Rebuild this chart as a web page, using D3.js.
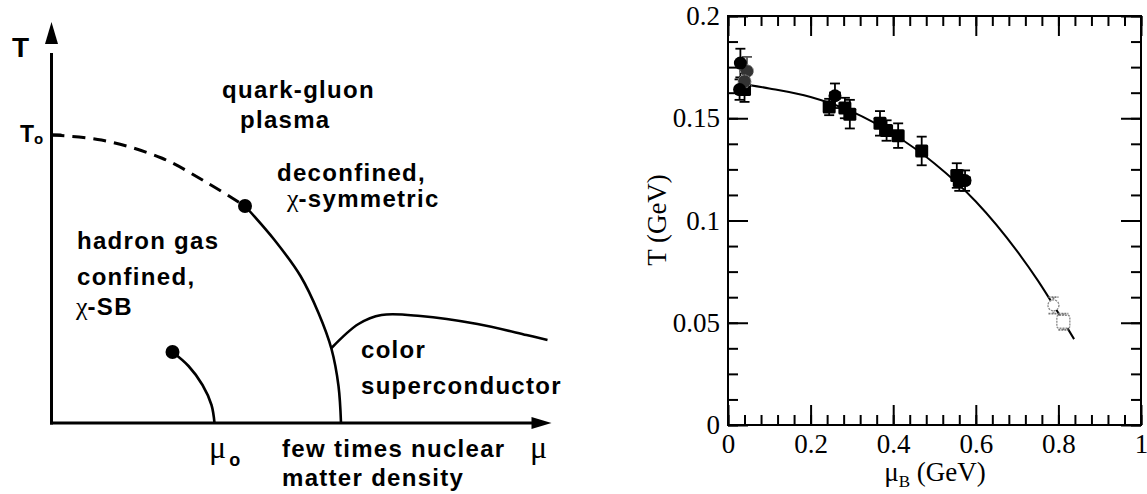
<!DOCTYPE html>
<html>
<head>
<meta charset="utf-8">
<script src="https://cdn.jsdelivr.net/npm/d3@7"></script>
<style>
  body { margin: 0; background: #fff; }
  svg { display: block; }
  .lbl { font-family: "Liberation Sans", Arial, sans-serif; font-weight: bold; fill: #000; }
  .ser { font-family: "Liberation Serif", "Times New Roman", serif; fill: #000; }
  .tick text { font-family: "Liberation Serif", "Times New Roman", serif; font-size: 27px; fill: #000; }
</style>
</head>
<body>
<svg width="1147" height="494"></svg>
<script>
// ---- left panel: schematic phase diagram (diagram units)
var crossoverDashed = [[0, 288], [50, 283], [110, 265], [156, 240], [193.5, 217]];
var firstOrderLine  = [[193.5, 217], [223, 183], [249, 147], [267, 110], [280, 74], [287, 37], [289.5, 0]];
var superLine       = [[280, 75], [307, 99], [330, 108], [369, 107], [426, 99], [475, 88], [496, 83]];
var nuclearLine     = [[121, 71], [137, 57], [151, 38], [160, 18], [163, 0]];
var criticalPoints  = [[193.5, 217], [121, 71]];

// ---- right panel: freeze-out points (muB GeV, T GeV, dT, dMu)
var blackCircles = [[0.030, 0.177, 0.007, 0], [0.028, 0.164, 0.005, 0], [0.259, 0.161, 0.006, 0.012], [0.574, 0.1195, 0.005, 0.012]];
var greyCircles  = [[0.046, 0.173, 0.007, 0], [0.040, 0.168, 0.005, 0]];
var blackSquares = [[0.040, 0.164, 0.006, 0], [0.245, 0.1555, 0.004, 0.010], [0.283, 0.155, 0.005, 0],
                    [0.295, 0.152, 0.007, 0], [0.368, 0.1475, 0.006, 0], [0.384, 0.144, 0.005, 0],
                    [0.412, 0.1415, 0.006, 0], [0.469, 0.134, 0.007, 0], [0.554, 0.122, 0.006, 0],
                    [0.560, 0.1195, 0.005, 0]];
var openCircles  = [[0.788, 0.0585, 0.004, 0]];
var openSquares  = [[0.812, 0.0505, 0.004, 0]];
var fitCurveMu = [0.05, 0.1, 0.2, 0.3, 0.4, 0.5, 0.6, 0.7, 0.75, 0.8, 0.838];
var fitCurveT  = [0.1663, 0.1646, 0.1604, 0.1532, 0.1423, 0.1279, 0.1093, 0.0850, 0.0707, 0.0547, 0.042];

var xMajor = [0, 0.2, 0.4, 0.6, 0.8, 1];
var xTickLabels = ["0", "0.2", "0.4", "0.6", "0.8", "1"];
var yMajor = [0, 0.05, 0.1, 0.15, 0.2];
var yTickLabels = ["0", "0.05", "0.1", "0.15", "0.2"];

var svg = d3.select("svg");

// ================= left panel
var xL = d3.scaleLinear().domain([0, 500]).range([51.5, 551.5]);
var yL = d3.scaleLinear().domain([0, 400]).range([423, 23]);
var left = svg.append("g");
var lineL = d3.line().x(function(d) { return xL(d[0]); }).y(function(d) { return yL(d[1]); })
  .curve(d3.curveCatmullRom.alpha(0.5));

// axes with arrows
left.append("line").attr("x1", xL(0)).attr("x2", xL(0)).attr("y1", yL(0) + 1.5).attr("y2", yL(370))
  .attr("stroke", "#000").attr("stroke-width", 3);
left.append("line").attr("x1", xL(0) - 1.5).attr("x2", xL(482)).attr("y1", yL(0)).attr("y2", yL(0))
  .attr("stroke", "#000").attr("stroke-width", 3);
left.append("path").attr("d", "M" + xL(0) + "," + (yL(401)) + "L" + (xL(0) - 6.5) + "," + yL(379) + "L" + (xL(0) + 6.5) + "," + yL(379) + "Z");
left.append("path").attr("d", "M" + xL(500) + "," + yL(0) + "L" + xL(480) + "," + (yL(0) - 6) + "L" + xL(480) + "," + (yL(0) + 6) + "Z");
// T0 tick
left.append("line").attr("x1", xL(0)).attr("x2", xL(10)).attr("y1", yL(288)).attr("y2", yL(288))
  .attr("stroke", "#000").attr("stroke-width", 3);

left.append("path").datum(crossoverDashed).attr("d", lineL).attr("fill", "none")
  .attr("stroke", "#000").attr("stroke-width", 3).attr("stroke-dasharray", "13,8");
[firstOrderLine, superLine, nuclearLine].forEach(function(s) {
  left.append("path").datum(s).attr("d", lineL).attr("fill", "none")
    .attr("stroke", "#000").attr("stroke-width", 2.6);
});
left.selectAll("circle.cp").data(criticalPoints).enter().append("circle")
  .attr("cx", function(d) { return xL(d[0]); }).attr("cy", function(d) { return yL(d[1]); })
  .attr("r", 7).attr("fill", "#000");

function txt(x, y, s, size, cls) {
  return left.append("text").attr("class", cls || "lbl").attr("x", x).attr("y", y)
    .attr("font-size", size).text(s);
}
txt(12, 56.5, "T", 28);
var t0 = txt(20, 141.5, "T", 23); t0.append("tspan").attr("font-size", 15).attr("dy", 2).text("o");
txt(222, 98, "quark-gluon", 24).attr("letter-spacing", 1.3);
txt(240, 128, "plasma", 24).attr("letter-spacing", 1.3);
txt(277, 181, "deconfined,", 24).attr("letter-spacing", 1.3);
var cs = txt(287, 207, "\u03C7", 26, "ser"); cs.append("tspan").attr("class", "lbl").attr("font-size", 24).attr("letter-spacing", 1.3).text("-symmetric");
txt(77, 249, "hadron gas", 24).attr("letter-spacing", 1.3);
txt(77, 285, "confined,", 24).attr("letter-spacing", 1.3);
var sb = txt(76, 315, "\u03C7", 26, "ser"); sb.append("tspan").attr("class", "lbl").attr("font-size", 24).attr("letter-spacing", 1.3).text("-SB");
txt(361, 358, "color", 24).attr("letter-spacing", 1.3);
txt(361, 394, "superconductor", 24).attr("letter-spacing", 1.3);
var mu0 = txt(209, 458, "\u03BC", 32, "ser");
mu0.append("tspan").attr("class", "lbl").attr("font-size", 18).attr("dx", 3).attr("dy", 8).text("o");
txt(282, 457, "few times nuclear", 24).attr("letter-spacing", 1.3);
txt(282, 486, "matter density", 24).attr("letter-spacing", 1.3);
txt(530, 458, "\u03BC", 32, "ser");

// ================= right panel
var x = d3.scaleLinear().domain([0, 1]).range([728, 1141]);
var y = d3.scaleLinear().domain([0, 0.2]).range([425, 16]);
var right = svg.append("g");
var fmtX = function(d, i) { return xTickLabels[i]; };
var fmtY = function(d, i) { return yTickLabels[i]; };
var xMinor = d3.range(0, 1.0001, 0.04);
var yMinor = d3.range(0, 0.2001, 0.0125);

function styleAxis(g) {
  g.attr("font-family", null).attr("font-size", null);
  g.select(".domain").remove();
  g.selectAll(".tick line").attr("stroke", "#000").attr("stroke-width", 2);
}
right.append("g").attr("transform", "translate(0," + y(0) + ")")
  .call(d3.axisBottom(x).tickValues(xMinor).tickSize(-10).tickFormat("")).call(styleAxis);
right.append("g").attr("transform", "translate(0," + y(0) + ")")
  .call(d3.axisBottom(x).tickValues(xMajor).tickSize(-20).tickPadding(9).tickFormat(fmtX)).call(styleAxis);
right.append("g").attr("transform", "translate(0," + y(0.2) + ")")
  .call(d3.axisTop(x).tickValues(xMinor).tickSize(-10).tickFormat("")).call(styleAxis);
right.append("g").attr("transform", "translate(0," + y(0.2) + ")")
  .call(d3.axisTop(x).tickValues(xMajor).tickSize(-20).tickFormat("")).call(styleAxis);
right.append("g").attr("transform", "translate(" + x(0) + ",0)")
  .call(d3.axisLeft(y).tickValues(yMinor).tickSize(-10).tickFormat("")).call(styleAxis);
right.append("g").attr("transform", "translate(" + x(0) + ",0)")
  .call(d3.axisLeft(y).tickValues(yMajor).tickSize(-20).tickPadding(8).tickFormat(fmtY)).call(styleAxis);
right.append("g").attr("transform", "translate(" + x(1) + ",0)")
  .call(d3.axisRight(y).tickValues(yMinor).tickSize(-10).tickFormat("")).call(styleAxis);
right.append("g").attr("transform", "translate(" + x(1) + ",0)")
  .call(d3.axisRight(y).tickValues(yMajor).tickSize(-20).tickFormat("")).call(styleAxis);
right.append("rect").attr("x", x(0)).attr("y", y(0.2)).attr("width", x(1) - x(0)).attr("height", y(0) - y(0.2))
  .attr("fill", "none").attr("stroke", "#000").attr("stroke-width", 2);

// fit curve
var fit = fitCurveMu.map(function(m, i) { return [m, fitCurveT[i]]; });
right.append("path").datum(fit)
  .attr("d", d3.line().x(function(d) { return x(d[0]); }).y(function(d) { return y(d[1]); }).curve(d3.curveMonotoneX))
  .attr("fill", "none").attr("stroke", "#000").attr("stroke-width", 2);

function errorBars(data, color, dash) {
  var g = right.append("g").attr("stroke", color).attr("stroke-width", 1.8).attr("stroke-dasharray", dash || null);
  data.forEach(function(d) {
    var cx = x(d[0]), t1 = y(d[1] + d[2]), t0 = y(d[1] - d[2]);
    g.append("line").attr("x1", cx).attr("x2", cx).attr("y1", t1).attr("y2", t0);
    g.append("line").attr("x1", cx - 5).attr("x2", cx + 5).attr("y1", t1).attr("y2", t1);
    g.append("line").attr("x1", cx - 5).attr("x2", cx + 5).attr("y1", t0).attr("y2", t0);
    if (d[3] > 0) {
      var m0 = x(d[0] - d[3]), m1 = x(d[0] + d[3]), cy = y(d[1]);
      g.append("line").attr("x1", m0).attr("x2", m1).attr("y1", cy).attr("y2", cy);
      g.append("line").attr("x1", m0).attr("x2", m0).attr("y1", cy - 4).attr("y2", cy + 4);
      g.append("line").attr("x1", m1).attr("x2", m1).attr("y1", cy - 4).attr("y2", cy + 4);
    }
  });
}
errorBars(blackSquares, "#000");
errorBars(blackCircles, "#000");
errorBars(greyCircles, "#555");
errorBars(openCircles.concat(openSquares), "#777", "2,1");

right.selectAll("rect.sq").data(blackSquares).enter().append("rect")
  .attr("x", function(d) { return x(d[0]) - 6.5; }).attr("y", function(d) { return y(d[1]) - 6.5; })
  .attr("width", 13).attr("height", 13).attr("rx", 1.5).attr("fill", "#000");
right.selectAll("circle.gc").data(greyCircles).enter().append("circle")
  .attr("cx", function(d) { return x(d[0]); }).attr("cy", function(d) { return y(d[1]); })
  .attr("r", 6.5).attr("fill", "#333").attr("stroke", "#999").attr("stroke-dasharray", "2,1");
right.selectAll("circle.bc").data(blackCircles).enter().append("circle")
  .attr("cx", function(d) { return x(d[0]); }).attr("cy", function(d) { return y(d[1]); })
  .attr("r", 6.5).attr("fill", "#000");
right.selectAll("circle.oc").data(openCircles).enter().append("circle")
  .attr("cx", function(d) { return x(d[0]); }).attr("cy", function(d) { return y(d[1]); })
  .attr("r", 5.5).attr("fill", "#fff").attr("stroke", "#888").attr("stroke-width", 1.3).attr("stroke-dasharray", "2,1");
right.selectAll("rect.os").data(openSquares).enter().append("rect")
  .attr("x", function(d) { return x(d[0]) - 6.5; }).attr("y", function(d) { return y(d[1]) - 6.5; })
  .attr("width", 13).attr("height", 13).attr("rx", 2)
  .attr("fill", "#fff").attr("stroke", "#888").attr("stroke-width", 1.3).attr("stroke-dasharray", "2,1");

// axis titles
var xt = right.append("text").attr("class", "ser").attr("x", 935).attr("y", 481)
  .attr("text-anchor", "middle").attr("font-size", 27);
xt.append("tspan").text("\u03BC");
xt.append("tspan").attr("font-size", 17).attr("dy", 6).text("B");
xt.append("tspan").attr("dy", -6).text(" (GeV)");
right.append("text").attr("class", "ser").attr("transform", "translate(666,220) rotate(-90)")
  .attr("text-anchor", "middle").attr("font-size", 27).text("T (GeV)");
</script>
</body>
</html>
